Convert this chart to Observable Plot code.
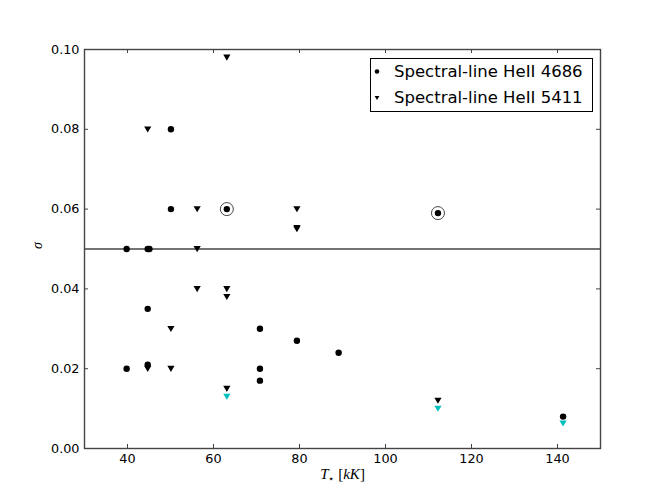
<!DOCTYPE html>
<html>
<head>
<meta charset="utf-8">
<script src="https://cdn.jsdelivr.net/npm/d3@7"></script>
<script src="https://cdn.jsdelivr.net/npm/@observablehq/plot@0.6"></script>
<style>
  html, body { margin: 0; padding: 0; background: #fff; }
  #wrap { position: relative; width: 668px; height: 498px; font-family: "DejaVu Sans", sans-serif; }
  #legend { position: absolute; left: 370px; top: 58px; width: 223px; height: 54px; box-sizing: border-box;
            border: 1px solid #000; background: #fff; font-family: "DejaVu Sans"; font-size: 16.5px; color: #000; }
  #legend .row { position: absolute; left: 0; height: 25px; line-height: 25px; white-space: nowrap; }
  #legend svg { position: absolute; left: 0; top: 0; }
  #legend span { position: absolute; left: 23px; top: 0; }
</style>
</head>
<body>
<div id="wrap"></div>
<script>
// ---- data ----
const xTicks = [40, 60, 80, 100, 120, 140];
const yTicks = [0.00, 0.02, 0.04, 0.06, 0.08, 0.10];
const seriesNames = ["Spectral-line HeII 4686", "Spectral-line HeII 5411"];
const xLabel = "T⋆ [kK]";
const yLabel = "σ";

// HeII 4686 (circles)
const he4686T     = [50.1, 50.1, 63.1, 39.8, 44.7, 45.1, 112.2, 44.7, 70.8, 79.4, 89.1, 39.8, 44.7, 70.8, 70.8, 141.3];
const he4686Sigma = [0.080, 0.060, 0.060, 0.050, 0.050, 0.050, 0.059, 0.035, 0.030, 0.027, 0.024, 0.020, 0.021, 0.020, 0.017, 0.008];

// HeII 5411 (down triangles)
const he5411T     = [63.1, 44.7, 56.2, 79.4, 79.4, 79.4, 56.2, 56.2, 63.1, 63.1, 50.1, 44.7, 50.1, 63.1, 112.2];
const he5411Sigma = [0.098, 0.080, 0.060, 0.060, 0.055, 0.0553, 0.050, 0.040, 0.040, 0.038, 0.030, 0.020, 0.020, 0.015, 0.012];

// cyan down triangles
const cyanT     = [63.1, 112.2, 141.3];
const cyanSigma = [0.013, 0.010, 0.0063];

// ringed points
const ringT     = [63.1, 112.2];
const ringSigma = [0.060, 0.059];

const thresholdSigma = [0.05];

// ---- build tables ----
const toRows = (xs, ys) => xs.map((x, i) => ({x, y: ys[i]}));
const he4686 = toRows(he4686T, he4686Sigma);
const he5411 = toRows(he5411T, he5411Sigma);
const cyan = toRows(cyanT, cyanSigma);
const rings = toRows(ringT, ringSigma);

const triangleDown = {
  draw(ctx, size) {
    const r = Math.sqrt(size / Math.PI);
    ctx.moveTo(-r, -0.8 * r);
    ctx.lineTo(r, -0.8 * r);
    ctx.lineTo(0, 0.9 * r);
    ctx.closePath();
  }
};

const W = 668, H = 498, mL = 84, mR = 68, mT = 49, mB = 50;
const innerW = W - mL - mR, innerH = H - mT - mB, tk = 4;
const axisColor = "#444";

const chart = Plot.plot({
  width: W, height: H,
  marginLeft: mL, marginRight: mR, marginTop: mT, marginBottom: mB,
  style: {fontFamily: "DejaVu Sans", fontSize: "12.8px", color: "#000", background: "#fff"},
  x: {domain: [30, 150], ticks: xTicks, tickSize: 0, tickPadding: 5, label: null},
  y: {domain: [0, 0.1], ticks: yTicks, tickFormat: d3.format(".2f"), tickSize: 0, tickPadding: 5, label: null},
  marks: [
    Plot.ruleY(thresholdSigma, {stroke: axisColor, strokeWidth: 1.4}),
    // inward ticks on all four sides
    Plot.tickX(xTicks, {x: d => d, insetTop: innerH - tk, stroke: axisColor}),
    Plot.tickX(xTicks, {x: d => d, insetBottom: innerH - tk, stroke: axisColor}),
    Plot.tickY(yTicks, {y: d => d, insetRight: innerW - tk, stroke: axisColor}),
    Plot.tickY(yTicks, {y: d => d, insetLeft: innerW - tk, stroke: axisColor}),
    Plot.frame({stroke: axisColor, strokeWidth: 1.4}),
    Plot.dot(rings, {x: "x", y: "y", r: 6.5, fill: "none", stroke: axisColor, strokeWidth: 1}),
    Plot.dot(he4686, {x: "x", y: "y", r: 3.2, fill: "#000", stroke: "none"}),
    Plot.dot(he5411, {x: "x", y: "y", r: 3.6, symbol: triangleDown, fill: "#000", stroke: "none"}),
    Plot.dot(cyan, {x: "x", y: "y", r: 3.6, symbol: triangleDown, fill: "#00bfbf", stroke: "none"}),
    Plot.text([xLabel], {text: d => d, frameAnchor: "bottom", dy: 30, fontFamily: "Liberation Serif", fontSize: 15}),
    Plot.text([yLabel], {text: d => d, frameAnchor: "left", dx: -47, rotate: -90, fontFamily: "Liberation Serif", fontSize: 14, fontStyle: "italic"})
  ]
});

// style the x label like math text: italic T, subscript star, italic kK
d3.select(chart).selectAll("text").filter(function() { return this.textContent === xLabel; })
  .each(function() {
    const t = d3.select(this);
    t.text(null);
    t.append("tspan").attr("font-style", "italic").text("T");
    t.append("tspan").attr("font-size", 10).attr("dy", 3).text("⋆");
    t.append("tspan").attr("dy", -3).text(" [");
    t.append("tspan").attr("font-style", "italic").text("kK");
    t.append("tspan").text("]");
  });

const wrap = document.getElementById("wrap");
wrap.appendChild(chart);

// legend overlay
const legend = document.createElement("div");
legend.id = "legend";
seriesNames.forEach((name, i) => {
  const row = document.createElement("div");
  row.className = "row";
  row.style.top = (i * 25.5) + "px";
  const ns = "http://www.w3.org/2000/svg";
  const svg = document.createElementNS(ns, "svg");
  svg.setAttribute("width", 14); svg.setAttribute("height", 25);
  if (i === 0) {
    const c = document.createElementNS(ns, "circle");
    c.setAttribute("cx", 6); c.setAttribute("cy", 12.5); c.setAttribute("r", 2.3); c.setAttribute("fill", "#000");
    svg.appendChild(c);
  } else {
    const p = document.createElementNS(ns, "path");
    p.setAttribute("d", "M3.6,11 L8.4,11 L6,15 Z"); p.setAttribute("fill", "#000");
    svg.appendChild(p);
  }
  const span = document.createElement("span");
  span.textContent = name;
  row.appendChild(svg); row.appendChild(span);
  legend.appendChild(row);
});
wrap.appendChild(legend);
</script>
</body>
</html>
